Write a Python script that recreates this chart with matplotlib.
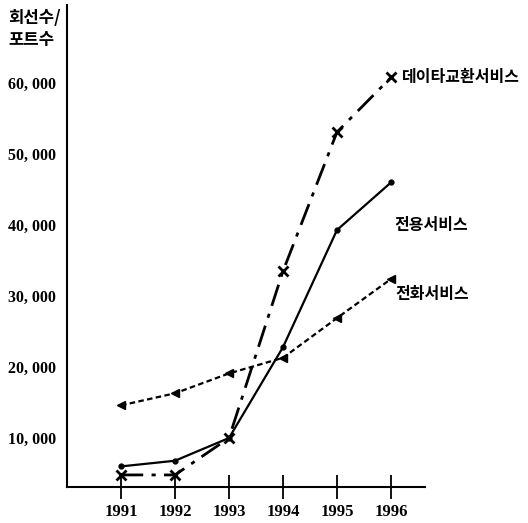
import matplotlib
matplotlib.use("Agg")
import matplotlib.pyplot as plt

years = [1991, 1992, 1993, 1994, 1995, 1996]
data_exchange = [4800, 4800, 10000, 33500, 53100, 60800]   # 데이타교환서비스
leased = [6000, 6800, 10000, 22800, 39300, 46000]          # 전용서비스
telephone = [14600, 16300, 19100, 21300, 26900, 32400]     # 전화서비스
series_names = ["데이타교환서비스", "전용서비스", "전화서비스"]
y_ticks = [10000, 20000, 30000, 40000, 50000, 60000]
y_tick_labels = ["10, 000", "20, 000", "30, 000", "40, 000", "50, 000", "60, 000"]
y_title = "회선수/\n포트수"

kfont = ["Noto Sans CJK KR", "DejaVu Sans"]
nfont = ["Liberation Serif", "DejaVu Serif"]

fig = plt.figure(figsize=(5.28, 5.23), dpi=100)
ax = fig.add_axes([67/528, 36/523, (425-67)/528, (518-36)/523])

ax.plot(years, data_exchange, color="black", lw=2.0,
        dashes=(8, 3, 1.5, 3), marker="x", markersize=7, mew=2)
ax.plot(years, leased, color="black", lw=1.6, marker="o", markersize=3.5)
ax.plot(years, telephone, color="black", lw=1.6, dashes=(2.5, 1.5),
        marker="<", markersize=6)

ax.set_xlim(1990.0, 1996.63)
ax.set_ylim(3100, 71000)

ax.spines["top"].set_visible(False)
ax.spines["right"].set_visible(False)
ax.spines["left"].set_linewidth(1.5)
ax.spines["bottom"].set_linewidth(1.5)

ax.set_xticks(years)
ax.set_xticklabels([str(y) for y in years], family=nfont, fontweight="bold", fontsize=12)
ax.tick_params(axis="x", direction="inout", length=17, width=1.3, pad=4)
ax.set_yticks(y_ticks)
ax.set_yticklabels(y_tick_labels, family=nfont, fontweight="bold", fontsize=11.5)
ax.tick_params(axis="y", length=0, pad=8)

# axis title
fig.text(8/528, 1 - 9/523, y_title, family=kfont, fontweight="bold", fontsize=12,
         ha="left", va="top", linespacing=1.3)

# series labels
ax.text(1996.2, 60800, series_names[0], family=kfont, fontweight="bold",
        fontsize=11.5, ha="left", va="center")
ax.text(1996.07, 40000, series_names[1], family=kfont, fontweight="bold",
        fontsize=11.5, ha="left", va="center")
ax.text(1996.09, 30300, series_names[2], family=kfont, fontweight="bold",
        fontsize=11.5, ha="left", va="center")

fig.savefig("out.png", dpi=100)
